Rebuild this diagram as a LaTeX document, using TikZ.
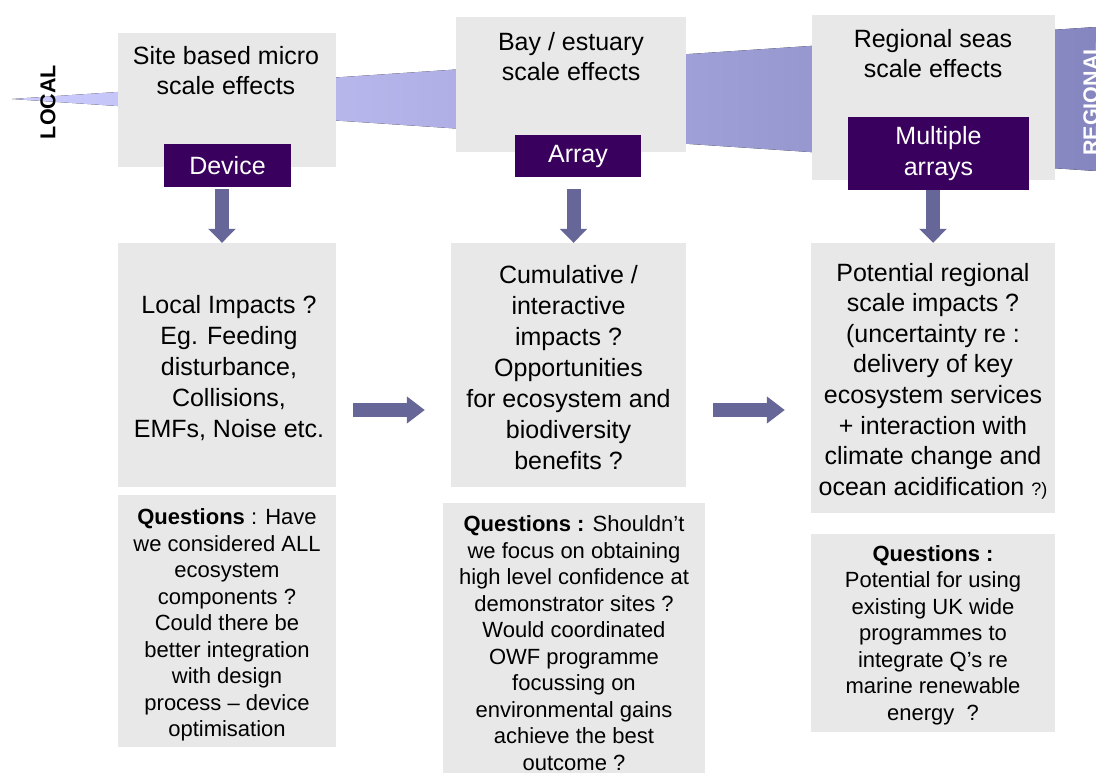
\documentclass[tikz,border=0pt]{standalone}
\usepackage{fontspec}
\setmainfont{Liberation Sans}
\usetikzlibrary{arrows.meta}

\definecolor{boxgray}{HTML}{E8E8E8}
\definecolor{labelpurple}{HTML}{3A005E}
\definecolor{arrowblue}{HTML}{666699}
\definecolor{wedgelight}{HTML}{CCCCFF}
\definecolor{wedgedark}{HTML}{8585C0}

\tikzset{
  panel/.style={fill=boxgray, draw=none, inner sep=0pt},
  tag/.style={fill=labelpurple, text=white, draw=none, inner sep=0pt, align=center,
    font=\fontsize{25}{31}\selectfont},
  headtext/.style={align=center, font=\fontsize{25}{30}\selectfont},
  bodytext/.style={align=center, font=\fontsize{25}{31}\selectfont},
  qtext/.style={align=center, font=\fontsize{22}{26.5}\selectfont},
  scaletext/.style={rotate=90, font=\bfseries\fontsize{21.5}{25}\selectfont},
  downarrow/.style={draw=arrowblue, line width=14pt, -{Triangle[width=27pt,length=14pt]}},
  rightarrow/.style={draw=arrowblue, line width=14pt, -{Triangle[width=26pt,length=18pt]}},
}

\begin{document}
\begin{tikzpicture}[x=1pt, y=-1pt]
\useasboundingbox (0,0) rectangle (1096,773);
\clip (0,0) rectangle (1096,773);

% widening band from local to regional scale
\fill[left color=wedgelight, right color=wedgedark] (12,99) -- (1096,27) -- (1096,171) -- cycle;
\node[scaletext, text=black] (local) at (48,102) {LOCAL};
\node[scaletext, text=white] (regional) at (1091,99) {REGIONAL};

% scale headers
\node[panel, minimum width=218pt, minimum height=134pt] (top1) at (227,100) {};
\node[panel, minimum width=230pt, minimum height=135pt] (top2) at (571,84.5) {};
\node[panel, minimum width=243pt, minimum height=165pt] (top3) at (933.5,97.5) {};
\node[headtext] (top1t) at (226,70.5) {Site based micro\\scale effects};
\node[headtext] (top2t) at (571,56.5) {Bay / estuary\\scale effects};
\node[headtext] (top3t) at (933,53.5) {Regional seas\\scale effects};

% development stage tags
\node[tag, minimum width=127pt, minimum height=43pt] (dev) at (227.5,165.5) {Device};
\node[tag, minimum width=126pt, minimum height=42pt] (arr) at (578,156) {Array};
\node[tag, minimum width=181pt, minimum height=73pt] (mult) at (938.5,153.5) {Multiple\\arrays};

% impacts
\node[panel, minimum width=218pt, minimum height=244pt] (mid1) at (227,365) {};
\node[panel, minimum width=235pt, minimum height=244pt] (mid2) at (568.5,365) {};
\node[panel, minimum width=244pt, minimum height=270pt] (mid3) at (933,378) {};
\node[bodytext] (mid1t) at (229,368)
  {Local Impacts ?\\Eg. Feeding\\disturbance,\\Collisions,\\EMFs, Noise etc.};
\node[bodytext] (mid2t) at (568.5,368)
  {Cumulative /\\interactive\\impacts ?\\Opportunities\\for ecosystem and\\biodiversity\\benefits ?};
\node[bodytext, font=\fontsize{25}{30.6}\selectfont] (mid3t) at (933,381)
  {Potential regional\\scale impacts ?\\(uncertainty re :\\delivery of key\\ecosystem services\\+ interaction with\\climate change and\\ocean acidification {\fontsize{18}{20}\selectfont ?)}};

% open questions
\node[panel, minimum width=218pt, minimum height=252pt] (q1) at (227,621) {};
\node[panel, minimum width=262pt, minimum height=272pt] (q2) at (574,639) {};
\node[panel, minimum width=244pt, minimum height=198pt] (q3) at (933,633) {};
\node[qtext] (q1t) at (227,625)
  {\textbf{Questions} : Have\\we considered ALL\\ecosystem\\components ?\\Could there be\\better integration\\with design\\process – device\\optimisation};
\node[qtext] (q2t) at (574,643)
  {\textbf{Questions :} Shouldn’t\\we focus on obtaining\\high level confidence at\\demonstrator sites ?\\Would coordinated\\OWF programme\\focussing on\\environmental gains\\achieve the best\\outcome ?};
\node[qtext] (q3t) at (933,635)
  {\textbf{Questions :}\\Potential for using\\existing UK wide\\programmes to\\integrate Q’s re\\marine renewable\\energy ~?};

% connectors
\draw[downarrow] ([xshift=-5.5pt,yshift=-2pt]dev.south) -- ([xshift=-5pt]mid1.north);
\draw[downarrow] ([xshift=-4.5pt,yshift=-12pt]arr.south) -- ([xshift=5pt]mid2.north);
\draw[downarrow] ([xshift=-5.5pt]mult.south) -- (mid3.north);
\draw[rightarrow] ([shift={(17,45)}]mid1.east) -- ([shift={(-26,45)}]mid2.west);
\draw[rightarrow] ([shift={(27,45)}]mid2.east) -- ([shift={(-26,32)}]mid3.west);
\end{tikzpicture}
\end{document}
